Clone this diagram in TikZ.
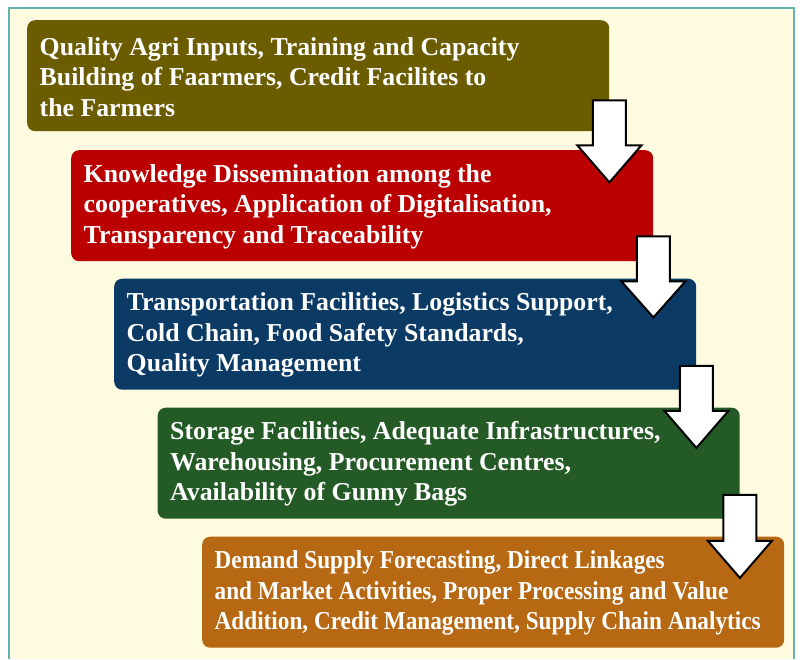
\documentclass[tikz,border=0pt]{standalone}
\usepackage{fontspec}
\setmainfont{Liberation Serif}
\newfontfamily\narrowserif[FakeStretch=0.9]{Liberation Serif}
\usetikzlibrary{calc}

\definecolor{pagecream}{HTML}{FFFBE0}
\definecolor{frameteal}{HTML}{62B2AE}
\definecolor{stepolive}{HTML}{6C5C00}
\definecolor{stepred}{HTML}{BA0000}
\definecolor{stepnavy}{HTML}{0B3A65}
\definecolor{stepgreen}{HTML}{245A25}
\definecolor{steporange}{HTML}{B76812}

\tikzset{
  stepbox/.style={rectangle, rounded corners=8pt, draw=none,
    minimum width=582pt, minimum height=111pt, inner sep=0pt,
    anchor=north west},
  steptext/.style={anchor=west, align=left, inner sep=0pt, text=white,
    font=\fontsize{25.8pt}{30.5pt}\selectfont\bfseries},
  blockarrow/.style={draw=black, fill=white, line width=2pt,
    line join=miter},
  frameline/.style={draw=frameteal, line width=2pt}
}

% block arrow hanging from the lower right corner of a step box
% #1 = box name, #2 = top offset, #3 = head offset, #4 = tip offset
\newcommand\stepdownarrow[4]{%
  \begin{scope}[shift={(#1.south east)}]
    \draw[blockarrow] (-16.5,#2) -- (-16.5,#3) -- (-32,#3) -- (0,#4)
      -- (32,#3) -- (16.5,#3) -- (16.5,#2) -- cycle;
  \end{scope}}

\begin{document}
\begin{tikzpicture}[x=1pt, y=-1pt]
  % page and frame
  \useasboundingbox (0,0) rectangle (800,659);
  \fill[white] (0,0) rectangle (800,659);
  \fill[pagecream] (9,8) rectangle (794,659);
  \draw[frameline] (9,659) -- (9,8) -- (794,8) -- (794,659);

  % step boxes
  \node[stepbox, fill=stepolive]  (b1) at (27,20) {};
  \node[stepbox, fill=stepred]    (b2) at (71,150) {};
  \node[stepbox, fill=stepnavy]   (b3) at (114,278.5) {};
  \node[stepbox, fill=stepgreen]  (b4) at (157.5,407.5) {};
  \node[stepbox, fill=steporange] (b5) at (202,536.5) {};

  % step texts
  \node[steptext] (t1) at ([xshift=12.5pt,yshift=-1pt]b1.west)
    {Quality Agri Inputs, Training and Capacity\\Building of Faarmers, Credit Facilites to\\the Farmers};
  \node[steptext] (t2) at ([xshift=12.5pt,yshift=-1pt]b2.west)
    {Knowledge Dissemination among the\\cooperatives, Application of Digitalisation,\\Transparency and Traceability};
  \node[steptext] (t3) at ([xshift=12.5pt,yshift=-1pt]b3.west)
    {Transportation Facilities, Logistics Support,\\Cold Chain, Food Safety Standards,\\Quality Management};
  \node[steptext] (t4) at ([xshift=12.5pt,yshift=-1pt]b4.west)
    {Storage Facilities, Adequate Infrastructures,\\Warehousing, Procurement Centres,\\Availability of Gunny Bags};
  \node[steptext, font=\fontsize{25.8pt}{30.5pt}\narrowserif\bfseries] (t5)
    at ([xshift=12.5pt,yshift=-1pt]b5.west)
    {Demand Supply Forecasting, Direct Linkages\\and Market Activities, Proper Processing and Value\\Addition, Credit Management, Supply Chain Analytics};

  % arrows between the steps
  \stepdownarrow{b1}{-31}{14}{51}
  \stepdownarrow{b2}{-25}{20}{56}
  \stepdownarrow{b3}{-24}{21}{58}
  \stepdownarrow{b4}{-24}{22}{59}
\end{tikzpicture}
\end{document}
